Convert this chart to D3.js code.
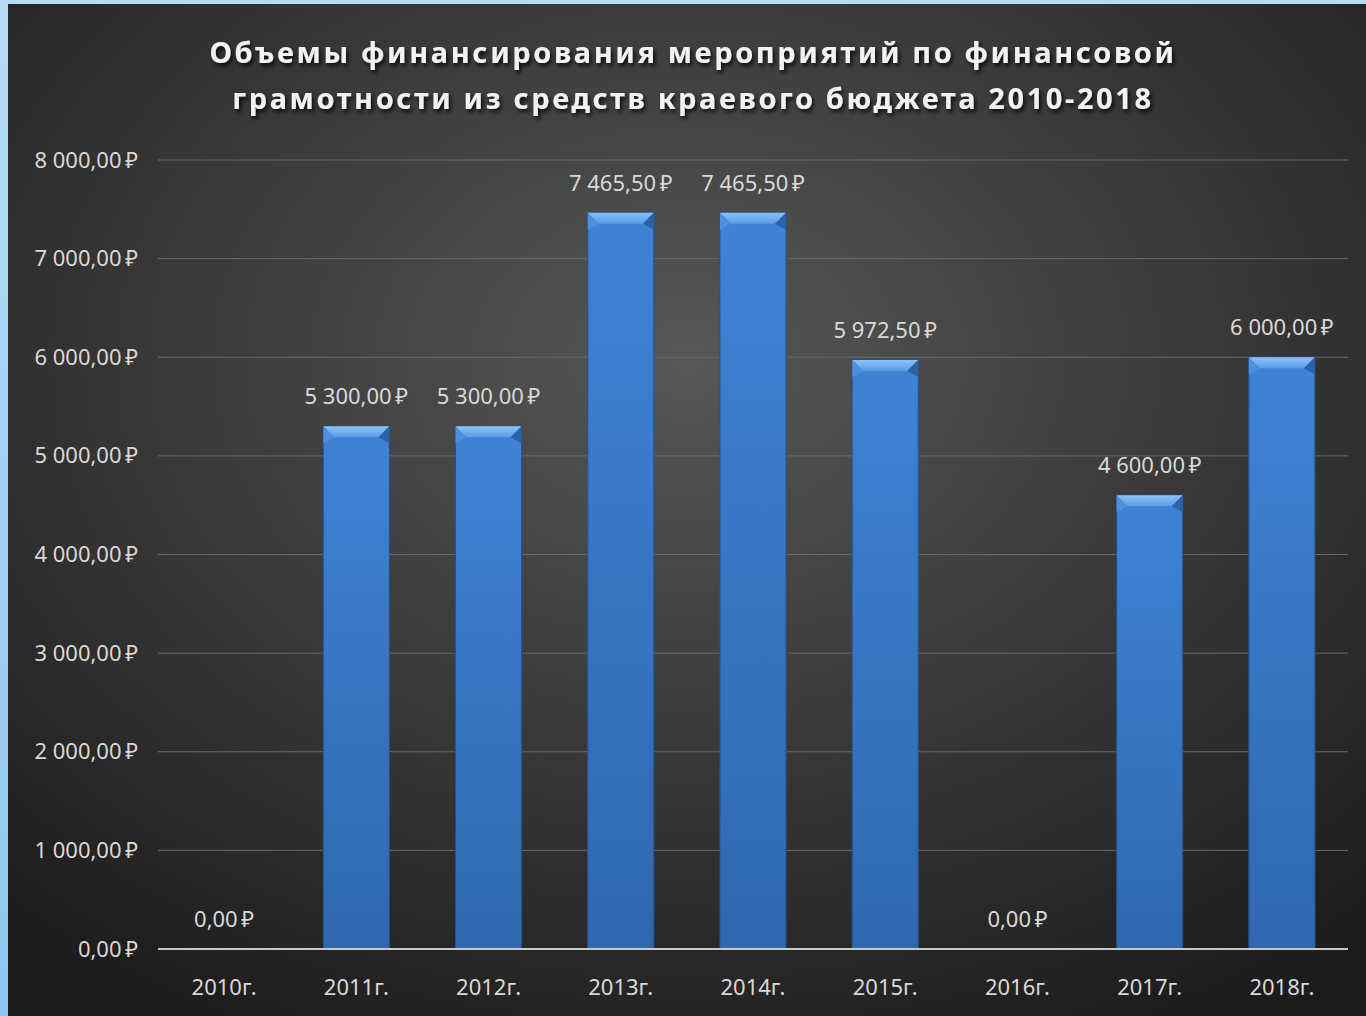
<!DOCTYPE html>
<html>
<head>
<meta charset="utf-8">
<script src="https://cdn.jsdelivr.net/npm/d3@7"></script>
<style>
  html, body { margin: 0; padding: 0; background: #a9d5f5; }
  svg { display: block; }
</style>
</head>
<body>
<svg id="grafico"></svg>
<script>
var categorias = ['2010г.', '2011г.', '2012г.', '2013г.', '2014г.', '2015г.', '2016г.', '2017г.', '2018г.'];
var valores = [0, 5300, 5300, 7465.5, 7465.5, 5972.5, 0, 4600, 6000];
var ticksY = [0, 1000, 2000, 3000, 4000, 5000, 6000, 7000, 8000];
var titulo = ['Объемы финансирования мероприятий по финансовой', 'грамотности из средств краевого бюджета 2010-2018'];

var largura = 1366, altura = 1016;
var svg = d3.select('#grafico').attr('width', largura).attr('height', altura);

var defs = svg.append('defs');
var borda = defs.append('linearGradient').attr('id', 'borda').attr('x1', 0).attr('y1', 0).attr('x2', 0).attr('y2', 1);
borda.append('stop').attr('offset', '0%').attr('stop-color', '#b5dcf7');
borda.append('stop').attr('offset', '100%').attr('stop-color', '#8fc6ee');

var fundo = defs.append('radialGradient').attr('id', 'fundo')
  .attr('cx', '50%').attr('cy', '35%').attr('r', '75%');
fundo.append('stop').attr('offset', '0%').attr('stop-color', '#575757');
fundo.append('stop').attr('offset', '100%').attr('stop-color', '#1c1c1c');

var barraGrad = defs.append('linearGradient').attr('id', 'barraGrad').attr('x1', 0).attr('y1', 0).attr('x2', 0).attr('y2', 1);
barraGrad.append('stop').attr('offset', '0%').attr('stop-color', '#3f83d6');
barraGrad.append('stop').attr('offset', '100%').attr('stop-color', '#2f68ae');

var bisel = defs.append('linearGradient').attr('id', 'bisel').attr('x1', 0).attr('y1', 0).attr('x2', 0).attr('y2', 1);
bisel.append('stop').attr('offset', '0%').attr('stop-color', '#8cc2f7');
bisel.append('stop').attr('offset', '100%').attr('stop-color', '#5a9be6');

var sombra = defs.append('filter').attr('id', 'sombra').attr('x', '-10%').attr('y', '-30%').attr('width', '120%').attr('height', '160%');
sombra.append('feDropShadow').attr('dx', 2).attr('dy', 3).attr('stdDeviation', 2).attr('flood-color', '#000').attr('flood-opacity', 0.8);

svg.append('rect').attr('width', largura).attr('height', altura).attr('fill', 'url(#borda)');
svg.append('rect').attr('x', 8).attr('y', 4).attr('width', largura - 8).attr('height', altura - 4).attr('fill', 'url(#fundo)');

var margem = { esquerda: 158, direita: 18, superior: 160, inferior: 67 };
var larguraPlotagem = largura - margem.esquerda - margem.direita;
var alturaPlotagem = altura - margem.superior - margem.inferior;

var plotagem = svg.append('g')
  .attr('transform', 'translate(' + margem.esquerda + ',' + margem.superior + ')');

var x = d3.scaleBand().domain(categorias).range([0, larguraPlotagem]).paddingInner(0.5).paddingOuter(0.25);
var y = d3.scaleLinear().domain([0, 8000]).range([alturaPlotagem, 0]);

var fmt = function(v) {
  var s = v.toFixed(2).split('.');
  var inteiro = s[0].replace(/\B(?=(\d{3})+(?!\d))/g, '\u00a0');
  return inteiro + ',' + s[1] + '\u202f₽';
};

var fonte = 'Noto Sans, DejaVu Sans, sans-serif';

// grade
plotagem.selectAll('.grade')
  .data(ticksY.filter(d => d > 0))
  .enter().append('line')
  .attr('x1', 0).attr('x2', larguraPlotagem)
  .attr('y1', d => y(d)).attr('y2', d => y(d))
  .attr('stroke', '#6a6a6a').attr('stroke-width', 1);

var eixoY = d3.axisLeft(y).tickValues(ticksY).tickFormat(fmt).tickSize(0).tickPadding(20);
var gY = plotagem.append('g').call(eixoY);
gY.select('.domain').remove();
gY.selectAll('text').attr('fill', '#d9d9d9').style('font-family', fonte).style('font-size', '22px');

// barras
plotagem.selectAll('.barra')
  .data(valores)
  .enter().append('g')
  .classed('barra', true)
  .each(function(d, i) {
    if (d <= 0) return;
    var g = d3.select(this);
    var x0 = x(categorias[i]), w = x.bandwidth(), y0 = y(d), b = 11;
    g.append('rect')
      .attr('x', x0).attr('y', y0)
      .attr('width', w).attr('height', alturaPlotagem - y0)
      .attr('fill', 'url(#barraGrad)')
      .attr('stroke', '#24528a').attr('stroke-width', 1);
    g.append('path')
      .attr('d', 'M' + x0 + ',' + y0 + 'L' + (x0 + w) + ',' + y0 + 'L' + (x0 + w - b) + ',' + (y0 + b) + 'L' + (x0 + b) + ',' + (y0 + b) + 'Z')
      .attr('fill', 'url(#bisel)');
    g.append('path')
      .attr('d', 'M' + x0 + ',' + y0 + 'L' + (x0 + b) + ',' + (y0 + b) + 'L' + x0 + ',' + (y0 + b + 6) + 'Z')
      .attr('fill', '#4f90dd');
    g.append('path')
      .attr('d', 'M' + (x0 + w) + ',' + y0 + 'L' + (x0 + w - b) + ',' + (y0 + b) + 'L' + (x0 + w) + ',' + (y0 + b + 6) + 'Z')
      .attr('fill', '#2c62a4');
  });

// eixo X
plotagem.append('line')
  .attr('x1', 0).attr('x2', larguraPlotagem)
  .attr('y1', alturaPlotagem).attr('y2', alturaPlotagem)
  .attr('stroke', '#c8c8c8').attr('stroke-width', 2);

var eixoX = d3.axisBottom(x).tickSize(0).tickPadding(38);
var gX = plotagem.append('g').attr('transform', 'translate(0,' + alturaPlotagem + ')').call(eixoX);
gX.select('.domain').remove();
gX.selectAll('text').attr('fill', '#d9d9d9').style('font-family', fonte).style('font-size', '22px').attr('dy', '0.35em');

// rótulos
plotagem.selectAll('.rotulo')
  .data(valores)
  .enter().append('text')
  .classed('rotulo', true)
  .text(d => fmt(d))
  .attr('x', (d, i) => x(categorias[i]) + x.bandwidth() / 2)
  .attr('y', d => y(d) - 22)
  .attr('text-anchor', 'middle')
  .attr('fill', '#d9d9d9')
  .style('font-family', fonte).style('font-size', '22px');

// título
svg.append('g').selectAll('text')
  .data(titulo)
  .enter().append('text')
  .text(d => d)
  .attr('x', 693)
  .attr('y', (d, i) => 63 + i * 46)
  .attr('text-anchor', 'middle')
  .attr('fill', '#f2f2f2')
  .attr('filter', 'url(#sombra)')
  .style('font-family', fonte).style('font-size', '29px').style('font-weight', 'bold')
  .style('letter-spacing', '2.6px');
</script>
</body>
</html>
